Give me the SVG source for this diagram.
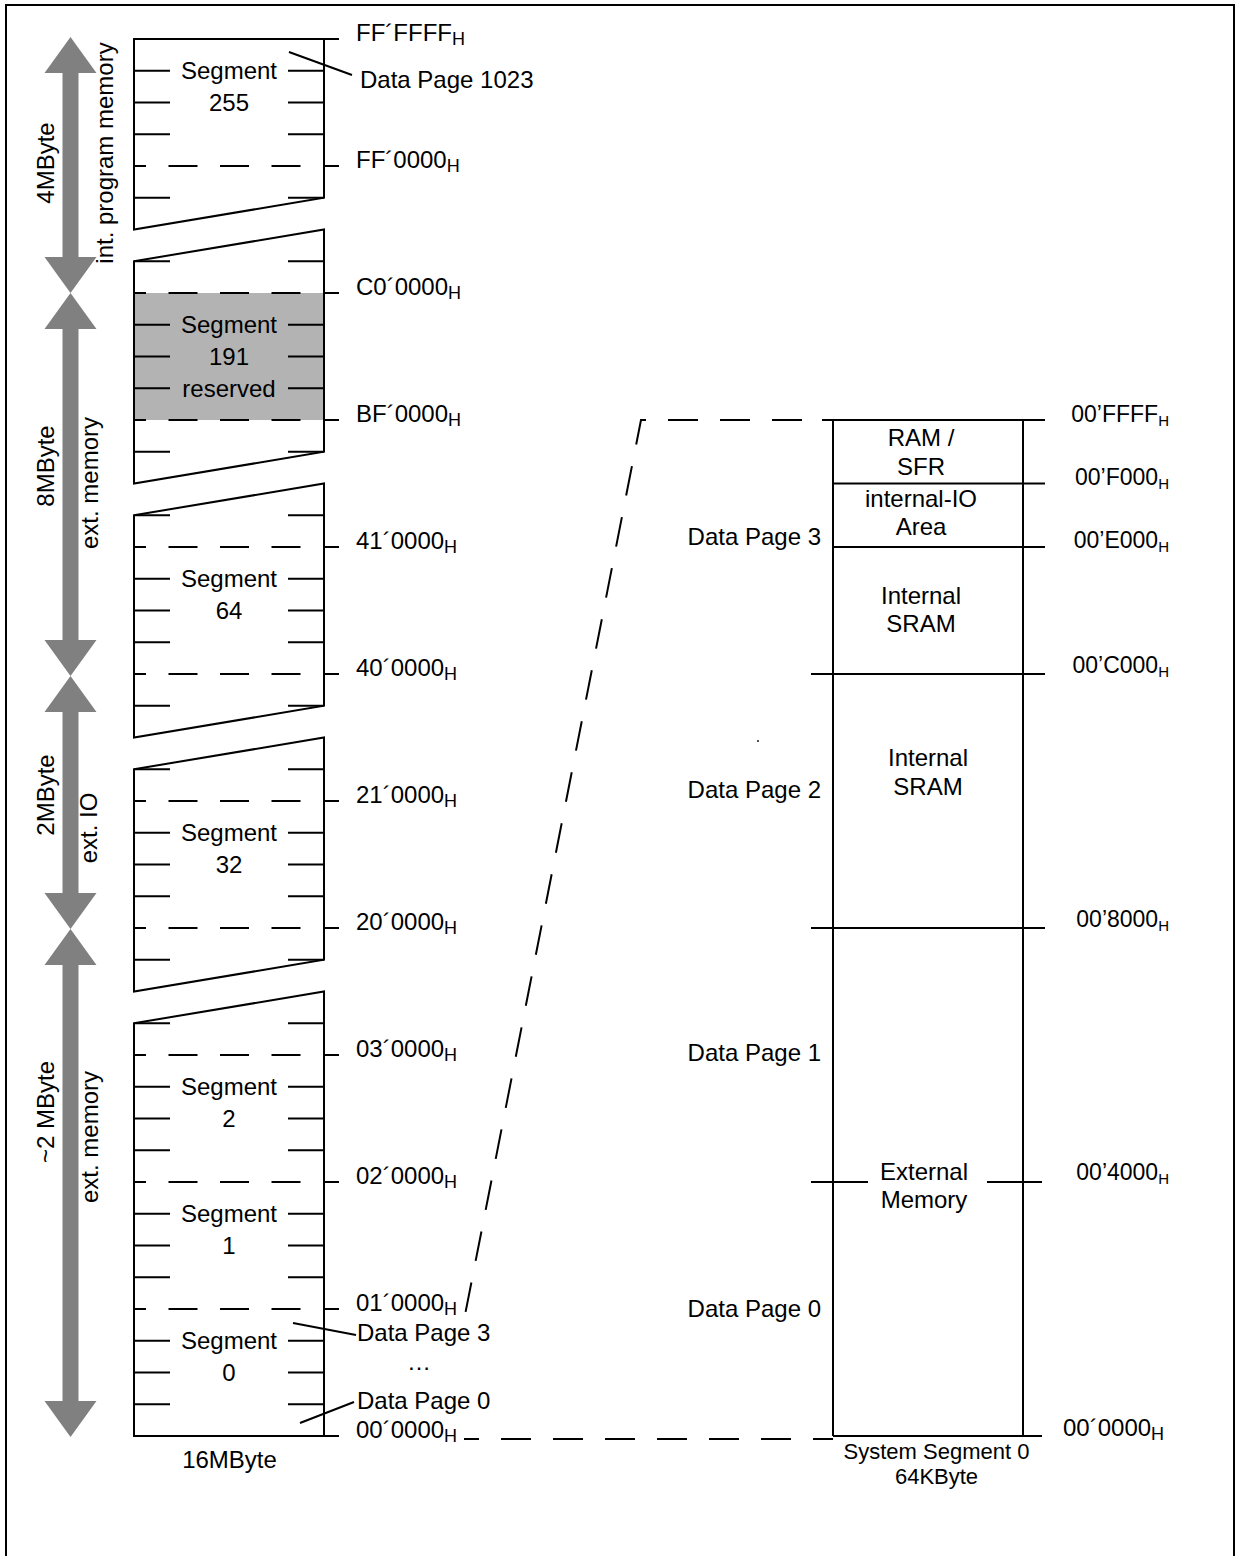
<svg xmlns="http://www.w3.org/2000/svg" width="1238" height="1556" viewBox="0 0 1238 1556">
<style>
text { font-family: "Liberation Sans", Arial, Helvetica, sans-serif; font-size: 24px; fill: #000; }
.ln { stroke: #000; stroke-width: 2; fill: none; }
.dash { stroke: #000; stroke-width: 2; fill: none; stroke-dasharray: 29 22.5; stroke-dashoffset: 17; }
.conn { stroke: #000; stroke-width: 2; fill: none; stroke-dasharray: 30 22; }
.arrow { fill: #808080; }
.gray { fill: #b3b3b3; }
.mid { text-anchor: middle; }
.end { text-anchor: end; }
.ra { font-size: 23px; }
.sub { font-size: 18px; }
.sub2 { font-size: 15px; }
.cap { font-size: 22px; }
</style>
<rect x="0" y="0" width="1238" height="1556" fill="#fff"/>
<path class="ln" d="M6 1556 V5 H1234 V1556"/>

<g id="size-arrows">
  <polygon class="arrow" points="70.5,37 96.5,73 78.5,73 78.5,257 96.5,257 70.5,293 44.5,257 62.5,257 62.5,73 44.5,73"/>
  <polygon class="arrow" points="70.5,293 96.5,329 78.5,329 78.5,640 96.5,640 70.5,676 44.5,640 62.5,640 62.5,329 44.5,329"/>
  <polygon class="arrow" points="70.5,676 96.5,712 78.5,712 78.5,893 96.5,893 70.5,929 44.5,893 62.5,893 62.5,712 44.5,712"/>
  <polygon class="arrow" points="70.5,929 96.5,965 78.5,965 78.5,1401 96.5,1401 70.5,1437 44.5,1401 62.5,1401 62.5,965 44.5,965"/>
  <text class="mid" transform="translate(54,163) rotate(-90)">4MByte</text>
  <text class="mid" transform="translate(113,153) rotate(-90)">int. program memory</text>
  <text class="mid" transform="translate(54,466) rotate(-90)">8MByte</text>
  <text class="mid" transform="translate(98,483) rotate(-90)">ext. memory</text>
  <text class="mid" transform="translate(54,795) rotate(-90)">2MByte</text>
  <text class="mid" transform="translate(97,828) rotate(-90)">ext. IO</text>
  <text class="mid" transform="translate(54,1112) rotate(-90)">~2 MByte</text>
  <text class="mid" transform="translate(98,1137) rotate(-90)">ext. memory</text>
</g>

<g id="segment-255">
  <polygon class="ln" points="134,39 324,39 324,197.75 134,229.5"/>
  <path class="ln" d="M324 39 H339 M324 166 H339 M134 70.75 H170 M288 70.75 H324 M134 102.5 H170 M288 102.5 H324 M134 134.25 H170 M288 134.25 H324 M134 197.75 H170 M288 197.75 H324"/>
  <path class="dash" d="M134 166 H324"/>
  <text class="mid" x="229" y="79.25">Segment</text>
  <text class="mid" x="229" y="111">255</text>
  <text x="356" y="41">FF´FFFF<tspan class="sub" dy="4">H</tspan></text>
  <text x="356" y="168">FF´0000<tspan class="sub" dy="4">H</tspan></text>
</g>

<g id="segment-191">
  <rect class="gray" x="134" y="293" width="190" height="127"/>
  <polygon class="ln" points="134,261.25 324,229.5 324,451.75 134,483.5"/>
  <path class="ln" d="M324 293 H339 M324 420 H339 M134 261.25 H170 M288 261.25 H324 M134 324.75 H170 M288 324.75 H324 M134 356.5 H170 M288 356.5 H324 M134 388.25 H170 M288 388.25 H324 M134 451.75 H170 M288 451.75 H324"/>
  <path class="dash" d="M134 293 H324 M134 420 H324"/>
  <text class="mid" x="229" y="333.25">Segment</text>
  <text class="mid" x="229" y="365">191</text>
  <text class="mid" x="229" y="396.75">reserved</text>
  <text x="356" y="295">C0´0000<tspan class="sub" dy="4">H</tspan></text>
  <text x="356" y="422">BF´0000<tspan class="sub" dy="4">H</tspan></text>
</g>

<g id="segment-64">
  <polygon class="ln" points="134,515.25 324,483.5 324,705.75 134,737.5"/>
  <path class="ln" d="M324 547 H339 M324 674 H339 M134 515.25 H170 M288 515.25 H324 M134 578.75 H170 M288 578.75 H324 M134 610.5 H170 M288 610.5 H324 M134 642.25 H170 M288 642.25 H324 M134 705.75 H170 M288 705.75 H324"/>
  <path class="dash" d="M134 547 H324 M134 674 H324"/>
  <text class="mid" x="229" y="587.25">Segment</text>
  <text class="mid" x="229" y="619">64</text>
  <text x="356" y="549">41´0000<tspan class="sub" dy="4">H</tspan></text>
  <text x="356" y="676">40´0000<tspan class="sub" dy="4">H</tspan></text>
</g>

<g id="segment-32">
  <polygon class="ln" points="134,769.25 324,737.5 324,959.75 134,991.5"/>
  <path class="ln" d="M324 801 H339 M324 928 H339 M134 769.25 H170 M288 769.25 H324 M134 832.75 H170 M288 832.75 H324 M134 864.5 H170 M288 864.5 H324 M134 896.25 H170 M288 896.25 H324 M134 959.75 H170 M288 959.75 H324"/>
  <path class="dash" d="M134 801 H324 M134 928 H324"/>
  <text class="mid" x="229" y="841.25">Segment</text>
  <text class="mid" x="229" y="873">32</text>
  <text x="356" y="803">21´0000<tspan class="sub" dy="4">H</tspan></text>
  <text x="356" y="930">20´0000<tspan class="sub" dy="4">H</tspan></text>
</g>

<g id="segments-2-1-0">
  <polygon class="ln" points="134,1023.25 324,991.5 324,1436 134,1436"/>
  <path class="ln" d="M324 1055 H339 M324 1182 H339 M324 1309 H339 M324 1436 H339 M134 1023.25 H170 M288 1023.25 H324 M134 1086.75 H170 M288 1086.75 H324 M134 1118.5 H170 M288 1118.5 H324 M134 1150.25 H170 M288 1150.25 H324 M134 1213.75 H170 M288 1213.75 H324 M134 1245.5 H170 M288 1245.5 H324 M134 1277.25 H170 M288 1277.25 H324 M134 1340.75 H170 M288 1340.75 H324 M134 1372.5 H170 M288 1372.5 H324 M134 1404.25 H170 M288 1404.25 H324"/>
  <path class="dash" d="M134 1055 H324 M134 1182 H324 M134 1309 H324"/>
  <text class="mid" x="229" y="1095.25">Segment</text>
  <text class="mid" x="229" y="1127">2</text>
  <text class="mid" x="229" y="1222.25">Segment</text>
  <text class="mid" x="229" y="1254">1</text>
  <text class="mid" x="229" y="1349.25">Segment</text>
  <text class="mid" x="229" y="1381">0</text>
  <text x="356" y="1057">03´0000<tspan class="sub" dy="4">H</tspan></text>
  <text x="356" y="1184">02´0000<tspan class="sub" dy="4">H</tspan></text>
  <text x="356" y="1311">01´0000<tspan class="sub" dy="4">H</tspan></text>
  <text x="356" y="1438">00´0000<tspan class="sub" dy="4">H</tspan></text>
  <text class="mid" x="229.5" y="1468">16MByte</text>
</g>

<g id="data-page-labels-left">
  <path class="ln" d="M289 52 L352 75 M293 1323 L356 1335 M300 1423 L354 1402"/>
  <text x="360" y="88">Data Page 1023</text>
  <text x="357" y="1341">Data Page 3</text>
  <text class="mid" x="419" y="1370">…</text>
  <text x="357" y="1409">Data Page 0</text>
</g>

<g id="connectors">
  <path class="conn" stroke-dashoffset="32" d="M822 420 H641 L465 1315"/>
  <path class="conn" stroke-dashoffset="15" d="M464 1439 H833"/>
</g>

<g id="system-segment-0">
  <path class="ln" d="M833 420 V1436 M1023 420 V1437 M822 420 H1045 M833 483.5 H1045 M833 547 H1045 M811 674 H1045 M811 928 H1045 M811 1182 H868 M987 1182 H1042 M833 1436 H1042"/>
  <text class="mid" x="921" y="446">RAM /</text>
  <text class="mid" x="921" y="475">SFR</text>
  <text class="mid" x="921" y="507">internal-IO</text>
  <text class="mid" x="921" y="535">Area</text>
  <text class="mid" x="921" y="604">Internal</text>
  <text class="mid" x="921" y="632">SRAM</text>
  <text class="mid" x="928" y="766">Internal</text>
  <text class="mid" x="928" y="795">SRAM</text>
  <text class="mid" x="924" y="1180">External</text>
  <text class="mid" x="924" y="1208">Memory</text>
  <text class="mid cap" x="936.5" y="1459">System Segment 0</text>
  <text class="mid cap" x="936.5" y="1484">64KByte</text>
  <text class="end ra" x="1169" y="422">00’FFFF<tspan class="sub2" dy="4">H</tspan></text>
  <text class="end ra" x="1169" y="485">00’F000<tspan class="sub2" dy="4">H</tspan></text>
  <text class="end ra" x="1169" y="548">00’E000<tspan class="sub2" dy="4">H</tspan></text>
  <text class="end ra" x="1169" y="673">00’C000<tspan class="sub2" dy="4">H</tspan></text>
  <text class="end ra" x="1169" y="927">00’8000<tspan class="sub2" dy="4">H</tspan></text>
  <text class="end ra" x="1169" y="1180">00’4000<tspan class="sub2" dy="4">H</tspan></text>
  <text x="1063" y="1436">00´0000<tspan class="sub" dy="4">H</tspan></text>
</g>

<g id="data-page-labels-right">
  <text class="end" x="821" y="545">Data Page 3</text>
  <text class="end" x="821" y="798">Data Page 2</text>
  <text class="end" x="821" y="1061">Data Page 1</text>
  <text class="end" x="821" y="1317">Data Page 0</text>
  <circle cx="758" cy="741" r="0.9" fill="#000"/>
</g>
</svg>
